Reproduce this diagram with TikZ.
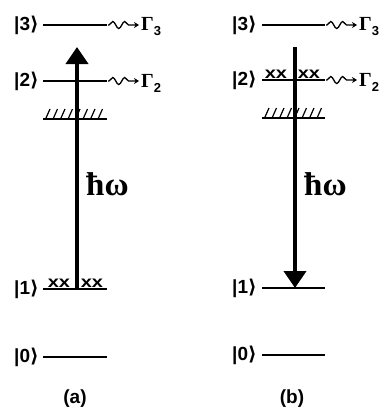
\documentclass[tikz,border=0pt]{standalone}
\usepackage{fontspec}
\setmainfont{Liberation Sans}
\newfontfamily\serifb{Liberation Serif}
\newfontfamily\djv{DejaVu Sans}
\usetikzlibrary{arrows.meta,decorations.pathmorphing}
\newcommand{\mykt}[1]{|#1{\djv\bfseries ⟩}}
\newcommand{\myG}[1]{{\serifb\bfseries Γ}\raisebox{-5pt}{\fontsize{13}{13}\selectfont\bfseries #1}}
\newcommand{\myxx}{\scalebox{1.25}[1]{xx}}
\tikzset{
  lvl/.style={line width=1.9pt},
  lab/.style={font=\fontsize{19}{19}\selectfont\bfseries, anchor=east, inner sep=0pt},
  glab/.style={font=\fontsize{20}{20}\selectfont, anchor=west, inner sep=0pt},
  wave/.style={line width=1.3pt, decorate, decoration={snake, segment length=12pt, amplitude=3.5pt, pre length=1pt, post length=5pt}, -{Stealth[length=5pt,width=6pt]}},
  hatch/.style={line width=1.2pt},
  xxm/.style={font=\fontsize{16}{16}\selectfont\bfseries, anchor=south, inner sep=0.3pt},
  photon/.style={line width=4pt, -{Triangle[length=17pt,width=22pt]}},
  hw/.style={font=\fontsize{33}{33}\selectfont\serifb\bfseries, anchor=base west, inner sep=0pt},
  captext/.style={font=\fontsize{19}{19}\selectfont\bfseries, inner sep=0pt}
}
\begin{document}
\begin{tikzpicture}[x=1pt,y=-1pt]
\useasboundingbox (0,0) rectangle (381,410);
\fill[white] (0,0) rectangle (381,410);
% ---------- panel (a)
\foreach \n/\y in {3/25,2/81,1/289,0/357}{
  \coordinate (aL\n) at (43,\y);
  \coordinate (aR\n) at (107,\y);
  \draw[lvl] (aL\n) -- (aR\n);
  \node[lab] (alab\n) at (39,\y) {\mykt{\n}};
}
\coordinate (ahL) at (43,119);
\coordinate (ahR) at (107,119);
\draw[lvl] (ahL) -- (ahR);
\foreach \x in {46,53.5,61,68.5,76,83.5,91,98.5}{
  \draw[hatch] (\x,118) -- (\x+4,109);
}
\coordinate (aw3s) at (108,25); \coordinate (aw3e) at (139,25);
\coordinate (aw2s) at (108,81); \coordinate (aw2e) at (139,81);
\draw[wave] (aw3s) -- (aw3e);
\draw[wave] (aw2s) -- (aw2e);
\node[glab] (aG3) at (141,27) {\myG{3}};
\node[glab] (aG2) at (141,83) {\myG{2}};
\coordinate (aph0) at (77,289);
\coordinate (aph1) at (77,47);
\draw[photon] (aph0) -- (aph1);
\node[xxm] (axl) at (59,288) {\myxx};
\node[xxm] (axr) at (92,288) {\myxx};
\node[hw] (ahw) at (86,195) {ħω};
\node[captext] (acap) at (75,399) {(a)};
% ---------- panel (b)
\foreach \n/\y in {3/25,2/80,1/288,0/355}{
  \coordinate (bL\n) at (262,\y);
  \coordinate (bR\n) at (325,\y);
  \draw[lvl] (bL\n) -- (bR\n);
  \node[lab] (blab\n) at (257,\y) {\mykt{\n}};
}
\coordinate (bhL) at (262,118);
\coordinate (bhR) at (325,118);
\draw[lvl] (bhL) -- (bhR);
\foreach \x in {265,272.5,280,287.5,295,302.5,310,317.5}{
  \draw[hatch] (\x,117) -- (\x+4,108);
}
\coordinate (bw3s) at (326,25); \coordinate (bw3e) at (357,25);
\coordinate (bw2s) at (326,80); \coordinate (bw2e) at (357,80);
\draw[wave] (bw3s) -- (bw3e);
\draw[wave] (bw2s) -- (bw2e);
\node[glab] (bG3) at (359,27) {\myG{3}};
\node[glab] (bG2) at (359,82) {\myG{2}};
\coordinate (bph0) at (295,47);
\coordinate (bph1) at (295,288);
\draw[photon] (bph0) -- (bph1);
\node[xxm] (bxl) at (276,79) {\myxx};
\node[xxm] (bxr) at (309,79) {\myxx};
\node[hw] (bhw) at (304,195) {ħω};
\node[captext] (bcap) at (292,399) {(b)};
\end{tikzpicture}
\end{document}
